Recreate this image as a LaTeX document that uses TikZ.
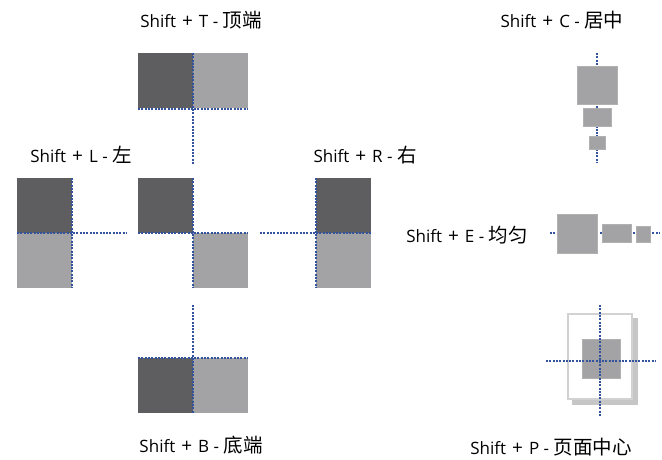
\documentclass[tikz,border=0pt]{standalone}
\usepackage{fontspec}
\setmainfont{Open Sans}
\newfontfamily\cjk{Noto Sans CJK SC}
\usetikzlibrary{positioning}
\definecolor{blkdark}{HTML}{5E5D60}
\definecolor{blklight}{HTML}{A3A3A5}
\definecolor{guideblue}{HTML}{34539F}
\definecolor{pageline}{HTML}{D2D2D2}
\definecolor{pageshade}{HTML}{C6C6C6}
\newcommand{\zh}[1]{{\cjk\fontsize{19.5}{22}\selectfont #1}}
\newcommand{\plus}{\hspace{6pt}{\fontsize{19}{20}\selectfont +}\hspace{6pt}}

\begin{document}
\begin{tikzpicture}[x=1pt, y=-1pt,
  sq/.style={minimum width=55pt, minimum height=55pt, inner sep=0pt, outer sep=0pt, anchor=north west},
  darksq/.style={sq, fill=blkdark},
  lightsq/.style={sq, fill=blklight},
  chip/.style={fill=blklight, draw=blklight!85!white, line width=0.6pt, inner sep=0pt, outer sep=0pt},
  guide/.style={draw=guideblue, line width=2pt, dash pattern=on 2pt off 1.3pt},
  lbl/.style={font=\fontsize{17}{20}\selectfont, inner sep=0pt}]
\useasboundingbox (0,0) rectangle (662,460);

% labels
\node[lbl] (lblT) at (201,20)  {Shift\plus T - \zh{顶端}};
\node[lbl] (lblC) at (562,20)  {Shift\plus C - \zh{居中}};
\node[lbl] (lblL) at (81,155)  {Shift\plus L - \zh{左}};
\node[lbl] (lblR) at (365,155) {Shift\plus R - \zh{右}};
\node[lbl] (lblE) at (467,235) {Shift\plus E - \zh{均匀}};
\node[lbl] (lblB) at (201,445) {Shift\plus B - \zh{底端}};
\node[lbl] (lblP) at (551,447) {Shift\plus P - \zh{页面中心}};

% top
\node[darksq]  (tD) at (138,53) {};
\node[lightsq] (tL) at (193,53) {};
\coordinate (tEnd) at (193,165);
\draw[guide] ([yshift=-1.5pt]tD.south west) -- ([yshift=-1.5pt]tL.south east);
\draw[guide] (tL.north west) -- (tEnd);

% left
\node[darksq]  (lD) at (17,178) {};
\node[lightsq] (lL) at (17,233) {};
\coordinate (lEnd) at (127,233);
\draw[guide] (lD.north east) -- (lL.south east);
\draw[guide] (lL.north west) -- (lEnd);

% middle
\node[darksq]  (mD) at (138,178) {};
\node[lightsq] (mL) at (193,233) {};
\draw[guide] (mD.north east) -- (mL.south west);
\draw[guide] (mD.south west) -- (mL.north east);

% right
\node[darksq]  (rD) at (316,178) {};
\node[lightsq] (rL) at (316,233) {};
\coordinate (rEnd) at (260,233);
\draw[guide] (rD.north west) -- (rL.south west);
\draw[guide] (rEnd) -- (rL.north east);

% bottom
\node[darksq]  (bD) at (138,358) {};
\node[lightsq] (bL) at (193,358) {};
\coordinate (bTop) at (193,305);
\draw[guide] (bD.north west) -- (bL.north east);
\draw[guide] (bTop) -- (bL.south west);

% centre
\coordinate (cTop) at (597,53);
\coordinate (cBot) at (597,162);
\draw[guide] (cTop) -- (cBot);
\node[chip, minimum width=40pt, minimum height=38pt] (c1) at (597,85)    {};
\node[chip, minimum width=28pt, minimum height=18pt] (c2) at (597,117)   {};
\node[chip, minimum width=16pt, minimum height=13pt] (c3) at (597,142.5) {};

% even
\coordinate (eLeft) at (550,233);
\coordinate (eRight) at (659,233);
\draw[guide] (eLeft) -- (eRight);
\node[chip, minimum width=40pt, minimum height=39pt] (e1) at (577,233.5) {};
\node[chip, minimum width=29pt, minimum height=18pt] (e2) at (616.5,233) {};
\node[chip, minimum width=14pt, minimum height=16pt] (e3) at (643,234)   {};

% page centre
\node[fill=pageshade, minimum width=66pt, minimum height=87pt, inner sep=0pt] (pS) at (605,361.5) {};
\node[fill=white, draw=pageline, line width=1.6pt, minimum width=64pt, minimum height=85pt, inner sep=0pt] (pg) at (600,356.5) {};
\node[chip, minimum width=38pt, minimum height=39pt] (p1) at (601,358.5) {};
\coordinate (pTop) at (600,305);
\coordinate (pBot) at (600,416);
\coordinate (pLeft) at (546,361);
\coordinate (pRight) at (656,361);
\draw[guide] (pTop) -- (pBot);
\draw[guide] (pLeft) -- (pRight);
\end{tikzpicture}
\end{document}
